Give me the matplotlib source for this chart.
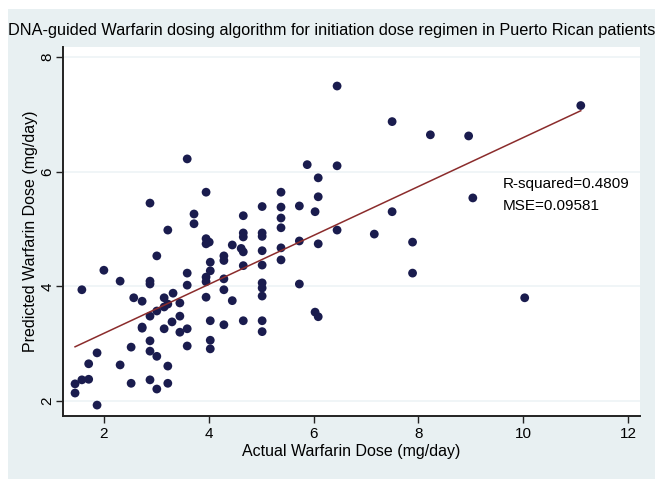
import numpy as np
import matplotlib
matplotlib.use("Agg")
import matplotlib.pyplot as plt
from matplotlib.patches import Rectangle

title = "DNA-guided Warfarin dosing algorithm for initiation dose regimen in Puerto Rican patients"
xlabel = "Actual Warfarin Dose (mg/day)"
ylabel = "Predicted Warfarin Dose (mg/day)"
xticks = [2, 4, 6, 8, 10, 12]
yticks = [2, 4, 6, 8]
stats_text = ["R-squared=0.4809", "MSE=0.09581"]

actual = [1.45, 1.45, 1.58, 1.71, 1.71, 1.87, 1.87, 2.31, 2.52, 2.52,
          2.73, 2.88, 2.88, 2.88, 2.88, 3.01, 3.01, 3.22, 3.22, 3.15,
          3.30, 3.01, 1.58, 2.00, 2.31, 2.57, 2.73, 2.88, 2.88, 3.01,
          3.22, 2.73, 3.15, 3.15, 3.22, 3.32, 3.45, 3.45, 3.45, 3.59,
          3.59, 3.59, 3.59, 3.95, 4.01, 3.95, 4.03, 4.03, 3.95, 3.95,
          3.95, 4.03, 4.03, 4.03, 4.29, 4.29, 4.29, 4.45, 4.29, 4.29,
          4.45, 4.62, 4.66, 3.59, 3.95, 3.72, 3.72, 4.66, 4.66, 4.66,
          4.66, 5.02, 5.02, 5.02, 5.02, 5.02, 5.02, 5.02, 5.02, 5.02,
          5.02, 4.66, 5.38, 5.38, 5.38, 5.38, 5.38, 5.38, 5.73, 5.73,
          5.73, 5.88, 6.45, 6.09, 6.09, 6.03, 6.09, 6.45, 6.03, 6.09,
          6.45, 7.50, 7.16, 7.50, 8.23, 8.96, 11.10, 9.04, 7.89, 7.89,
          10.03, 2.88]
predicted = [2.30, 2.14, 2.37, 2.38, 2.65, 2.84, 1.93, 2.63, 2.94, 2.31,
             3.27, 3.48, 3.05, 2.87, 2.37, 2.78, 2.21, 2.61, 2.31, 3.26,
             3.38, 3.57, 3.94, 4.28, 4.09, 3.80, 3.74, 4.09, 4.04, 4.53,
             4.98, 3.29, 3.80, 3.64, 3.69, 3.88, 3.71, 3.48, 3.20, 3.26,
             2.96, 4.23, 4.02, 4.83, 4.77, 4.74, 4.42, 4.27, 4.16, 4.08,
             3.81, 3.40, 3.06, 2.91, 3.33, 4.13, 3.94, 3.75, 4.53, 4.45,
             4.72, 4.66, 4.60, 6.22, 5.64, 5.26, 5.09, 5.23, 4.93, 4.86,
             4.36, 5.39, 4.93, 4.87, 4.62, 4.37, 4.06, 3.97, 3.83, 3.40,
             3.21, 3.40, 5.64, 5.38, 5.19, 5.02, 4.67, 4.46, 5.40, 4.79,
             4.04, 6.12, 6.10, 5.89, 5.56, 5.30, 4.74, 4.98, 3.55, 3.47,
             7.49, 6.87, 4.91, 5.30, 6.64, 6.62, 7.15, 5.54, 4.77, 4.23,
             3.80, 5.45]

x = np.array(actual)
y = np.array(predicted)
slope, intercept = np.polyfit(x, y, 1)
xf = np.array([x.min(), x.max()])
yf = intercept + slope * xf

FAM = ["Liberation Sans", "DejaVu Sans"]
W, H = 664, 488
fig = plt.figure(figsize=(W / 100, H / 100), dpi=100)
fig.patch.set_facecolor("white")
bg = Rectangle((8 / W, 1 - 479 / H), (655 - 8) / W, (479 - 9) / H,
               transform=fig.transFigure, facecolor="#e8f0f2",
               edgecolor="none", zorder=-10)
fig.add_artist(bg)

ax = fig.add_axes([63 / W, 1 - 416 / H, (640 - 63) / W, (416 - 47) / H])
ax.set_zorder(1)
ax.set_facecolor("white")
ax.set_xlim(1.22, 12.23)
ax.set_ylim(1.74, 8.17)

for s in ["top", "right"]:
    ax.spines[s].set_visible(False)
for s in ["left", "bottom"]:
    ax.spines[s].set_linewidth(1.4)
    ax.spines[s].set_color("#222222")

ax.set_yticks(yticks)
ax.set_xticks(xticks)
ax.set_yticklabels([str(t) for t in yticks], rotation=90, va="center")
ax.tick_params(axis="both", direction="out", length=5, width=1, color="#222222",
               labelsize=11)
ax.tick_params(axis="x", pad=3)
ax.tick_params(axis="y", pad=1)
ax.grid(axis="y", color="#eef4f6", linewidth=1.2)
ax.set_axisbelow(True)

ax.scatter(x, y, s=40, color="#1a1c4e", edgecolors="none", zorder=3)
ax.plot(xf, yf, color="#8b2c2c", linewidth=1.1, zorder=4)

ax.text(9.61, 5.79, stats_text[0], fontsize=11, va="center", ha="left", zorder=5, family=FAM)
ax.text(9.61, 5.40, stats_text[1], fontsize=11, va="center", ha="left", zorder=5, family=FAM)

for t in ax.get_xticklabels() + ax.get_yticklabels():
    t.set_family(FAM)

ax.set_xlabel(xlabel, fontsize=11.5, family=FAM, labelpad=2)
ax.set_ylabel(ylabel, fontsize=11.5, family=FAM, labelpad=2)
fig.text((8 + 655) / 2 / W, 1 - 30 / H, title, fontsize=11.7, ha="center", va="center",
         family=FAM)

fig.savefig("out.png", dpi=100)
